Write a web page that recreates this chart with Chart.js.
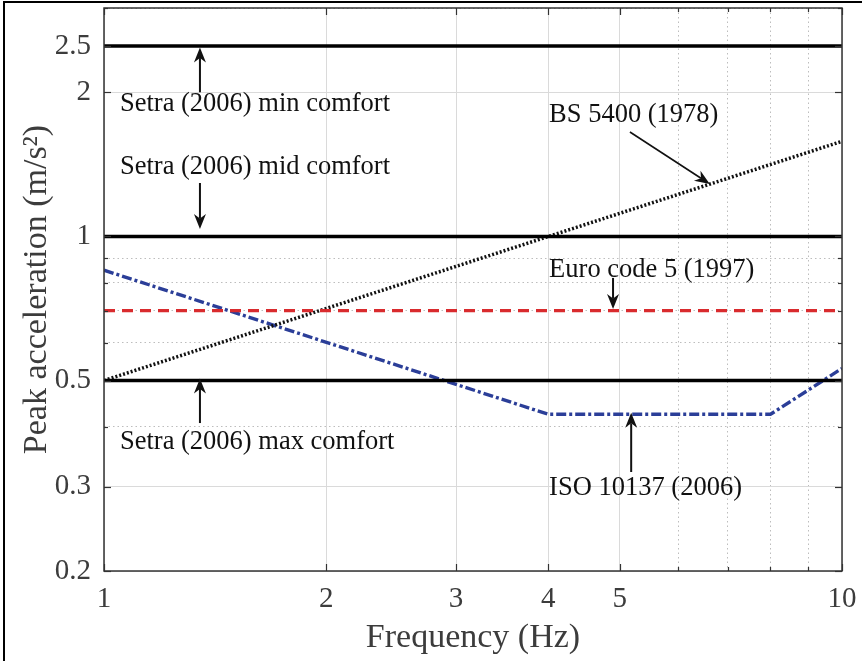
<!DOCTYPE html>
<html><head><meta charset="utf-8">
<script src="https://cdn.jsdelivr.net/npm/chart.js@4.4.1/dist/chart.umd.min.js"></script>
<style>
html,body{margin:0;padding:0;background:#fff;}
#wrap{position:relative;width:862px;height:661px;overflow:hidden;background:#fff;}
#frame{position:absolute;left:3px;top:1px;width:900px;height:700px;border-left:2px solid #000;border-top:2px solid #000;pointer-events:none;}
canvas{position:absolute;left:0;top:0;}
</style></head><body>
<div id="wrap"><canvas id="c" width="862" height="661"></canvas><div id="frame"></div></div>
<script>
// ---- data ----
const frequencyRange = [1, 10];
const setraMinComfort = [2.5, 2.5];
const setraMidComfort = [1.0, 1.0];
const setraMaxComfort = [0.5, 0.5];
const eurocode5 = [0.7, 0.7];
const bs5400Freq = [1, 10];
const bs5400Accel = [0.5, 1.58];
const iso10137Freq = [1, 4, 8, 10];
const iso10137Accel = [0.85, 0.425, 0.425, 0.53];
const xTickValues = [1, 2, 3, 4, 5, 6, 7, 8, 9, 10];
const xTickLabels = [1, 2, 3, 4, 5, 10];
const yTickValues = [0.2, 0.3, 0.4, 0.5, 0.6, 0.7, 0.8, 0.9, 1, 2, 2.5, 3];
const yTickLabels = [0.2, 0.3, 0.5, 1, 2, 2.5];
const annotationTexts = ['Setra (2006) min comfort', 'Setra (2006) mid comfort', 'BS 5400 (1978)',
  'Euro code 5 (1997)', 'Setra (2006) max comfort', 'ISO 10137 (2006)'];

const pts = (xs, ys) => xs.map((x, i) => ({x: x, y: ys[i]}));

// label anchors in data units (frequency, acceleration)
const annLayout = [
  {at: [1.051, 1.89], from: [1.349, 2.0], to: [1.349, 2.48], w: 2},
  {at: [1.051, 1.396], from: [1.349, 1.293], to: [1.349, 1.036], w: 2},
  {at: [4.01, 1.793], from: [5.16, 1.652], to: [6.62, 1.287], w: 1.6},
  {at: [4.01, 0.851], from: [4.895, 0.819], to: [4.895, 0.705], w: 2},
  {at: [1.051, 0.372], from: [1.349, 0.4075], to: [1.349, 0.505], w: 2},
  {at: [4.01, 0.298], from: [5.18, 0.322], to: [5.18, 0.428], w: 2}
];

const FONT = '"Liberation Serif", "Times New Roman", serif';

const decor = {
  id: 'decor',
  afterDatasetsDraw(chart) {
    const {ctx, chartArea: a, scales: {x, y}} = chart;
    ctx.save();
    ctx.strokeStyle = '#333';
    ctx.lineWidth = 1.2;
    const ln = (x1, y1, x2, y2) => { ctx.beginPath(); ctx.moveTo(x1, y1); ctx.lineTo(x2, y2); ctx.stroke(); };
    xTickValues.forEach(v => {
      const px = Math.round(x.getPixelForValue(v)) + 0.5;
      const len = xTickLabels.includes(v) ? 7 : 4;
      ln(px, a.bottom, px, a.bottom - len);
      ln(px, a.top, px, a.top + len);
    });
    yTickValues.forEach(v => {
      const py = Math.round(y.getPixelForValue(v)) + 0.5;
      const len = yTickLabels.includes(v) ? 7 : 4;
      ln(a.left, py, a.left + len, py);
      ln(a.right, py, a.right - len, py);
    });
    ctx.lineWidth = 1.5;
    ctx.strokeRect(a.left, a.top, a.right - a.left, a.bottom - a.top);

    // annotations
    ctx.fillStyle = '#111';
    ctx.strokeStyle = '#111';
    ctx.font = '26.5px ' + FONT;
    ctx.textAlign = 'left';
    ctx.textBaseline = 'middle';
    annLayout.forEach((an, i) => {
      ctx.fillText(annotationTexts[i], x.getPixelForValue(an.at[0]), y.getPixelForValue(an.at[1]));
      const x1 = x.getPixelForValue(an.from[0]), y1 = y.getPixelForValue(an.from[1]);
      const x2 = x.getPixelForValue(an.to[0]), y2 = y.getPixelForValue(an.to[1]);
      const ang = Math.atan2(y2 - y1, x2 - x1);
      const L = 15, W = 6;
      const bx = x2 - L * Math.cos(ang), by = y2 - L * Math.sin(ang);
      const nx = x2 - 0.7 * L * Math.cos(ang), ny = y2 - 0.7 * L * Math.sin(ang);
      ctx.lineWidth = an.w;
      ln(x1, y1, nx, ny);
      ctx.beginPath();
      ctx.moveTo(x2, y2);
      ctx.lineTo(bx - W * Math.sin(ang), by + W * Math.cos(ang));
      ctx.lineTo(nx, ny);
      ctx.lineTo(bx + W * Math.sin(ang), by - W * Math.cos(ang));
      ctx.closePath();
      ctx.fill();
    });
    ctx.restore();
  }
};

const gridColor = (labels) => (c) => (c.tick && labels.includes(c.tick.value)) ? '#dadada' : '#bdbdbd';
const gridDash = (labels) => (c) => (!c.tick || labels.includes(c.tick.value)) ? [] : [1.5, 3];

const tickFont = {family: FONT, size: 29};
const titleFont = {family: FONT, size: 34};

new Chart(document.getElementById('c').getContext('2d'), {
  type: 'scatter',
  data: {
    datasets: [
      {label: 'Setra (2006) min comfort', data: pts(frequencyRange, setraMinComfort), borderColor: '#000', borderWidth: 3.5},
      {label: 'Setra (2006) mid comfort', data: pts(frequencyRange, setraMidComfort), borderColor: '#000', borderWidth: 3.5},
      {label: 'Setra (2006) max comfort', data: pts(frequencyRange, setraMaxComfort), borderColor: '#000', borderWidth: 3.5},
      {label: 'Euro code 5 (1997)', data: pts(frequencyRange, eurocode5), borderColor: '#d92b2e', borderWidth: 3.2, borderDash: [11, 7]},
      {label: 'BS 5400 (1978)', data: pts(bs5400Freq, bs5400Accel), borderColor: '#111', borderWidth: 3.5, borderDash: [2, 2]},
      {label: 'ISO 10137 (2006)', data: pts(iso10137Freq, iso10137Accel), borderColor: '#2b3e98', borderWidth: 3.4, borderDash: [10, 3, 3, 3]}
    ].map(d => Object.assign(d, {showLine: true, pointRadius: 0, fill: false, tension: 0}))
  },
  options: {
    responsive: false,
    animation: false,
    layout: {padding: {left: 0, top: 8, right: 20, bottom: 0}},
    plugins: {legend: {display: false}, tooltip: {enabled: false}},
    scales: {
      x: {
        type: 'logarithmic', min: 1, max: 10,
        afterBuildTicks: s => { s.ticks = xTickValues.map(v => ({value: v})); },
        afterFit: s => { s.height = 90; s.paddingLeft = 0; s.paddingRight = 0; },
        ticks: {autoSkip: false, maxRotation: 0, padding: 11, color: '#3c3c3c', font: tickFont,
          callback: v => xTickLabels.includes(v) ? String(v) : ''},
        grid: {drawTicks: false, lineWidth: 1, color: gridColor(xTickLabels)},
        border: {display: false, dash: gridDash(xTickLabels)},
        title: {display: true, text: 'Frequency (Hz)', color: '#3c3c3c', font: titleFont, padding: {top: 0, bottom: 3}}
      },
      y: {
        type: 'logarithmic', min: 0.2, max: 3,
        afterBuildTicks: s => { s.ticks = yTickValues.map(v => ({value: v})); },
        afterFit: s => { s.width = 104; s.paddingTop = 0; s.paddingBottom = 0; },
        ticks: {autoSkip: false, padding: 13, color: '#3c3c3c', font: tickFont,
          callback: v => yTickLabels.includes(v) ? String(v) : ''},
        grid: {drawTicks: false, lineWidth: 1, color: gridColor(yTickLabels)},
        border: {display: false, dash: gridDash(yTickLabels)},
        title: {display: true, text: 'Peak acceleration (m/s²)', color: '#3c3c3c', font: titleFont, padding: {top: 17, bottom: 0}}
      }
    }
  },
  plugins: [decor]
});
</script>
</body></html>
